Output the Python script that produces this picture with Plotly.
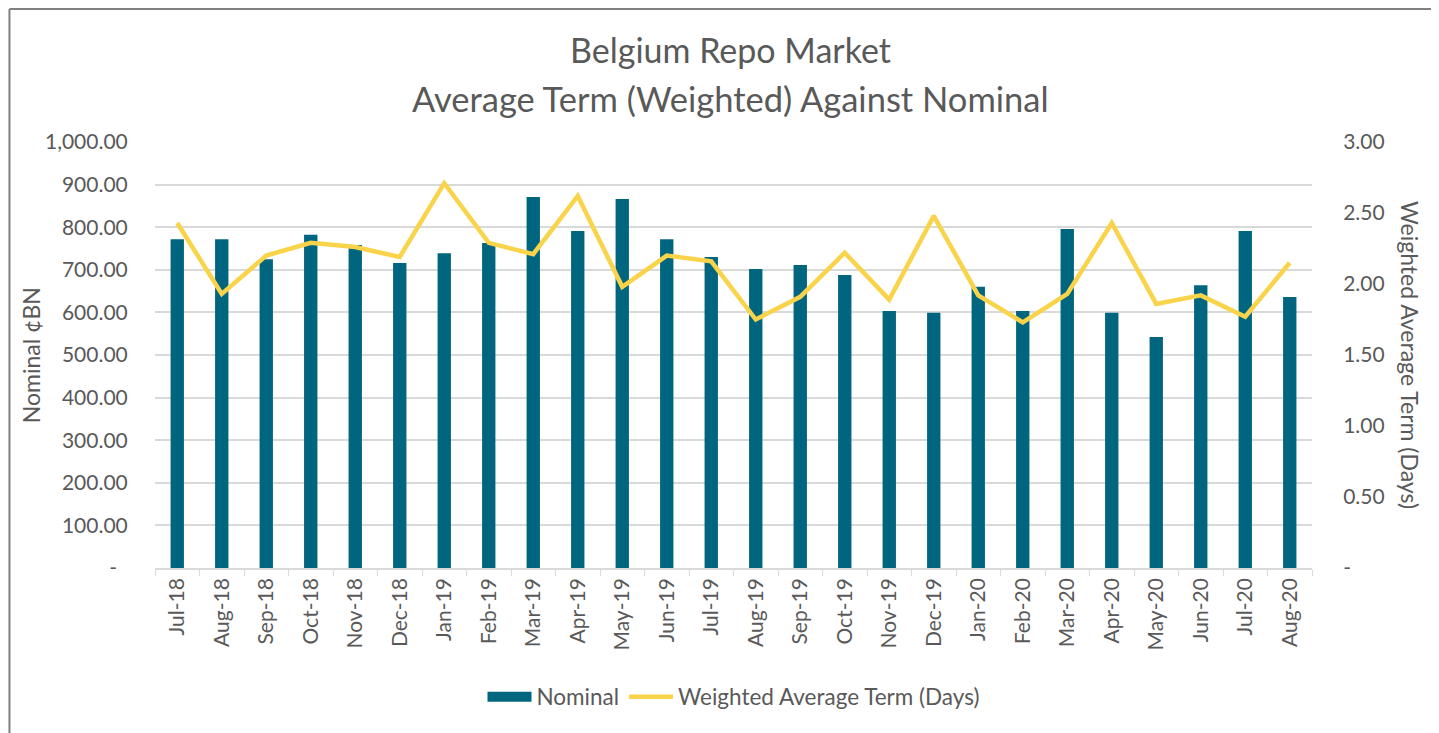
import plotly.graph_objects as go

# data
months = ['Jul-18', 'Aug-18', 'Sep-18', 'Oct-18', 'Nov-18', 'Dec-18',
          'Jan-19', 'Feb-19', 'Mar-19', 'Apr-19', 'May-19', 'Jun-19',
          'Jul-19', 'Aug-19', 'Sep-19', 'Oct-19', 'Nov-19', 'Dec-19',
          'Jan-20', 'Feb-20', 'Mar-20', 'Apr-20', 'May-20', 'Jun-20',
          'Jul-20', 'Aug-20']
nominal = [772, 772, 725, 782, 758, 716, 739, 763, 871, 791, 866, 772,
           730, 702, 711, 688, 603, 599, 660, 603, 796, 599, 542, 664,
           791, 636]
avg_term = [2.43, 1.93, 2.20, 2.29, 2.26, 2.19, 2.71, 2.29, 2.21, 2.62,
            1.98, 2.20, 2.16, 1.75, 1.91, 2.22, 1.89, 2.48, 1.92, 1.73,
            1.93, 2.43, 1.86, 1.92, 1.77, 2.15]

left_tickvals = [0, 100, 200, 300, 400, 500, 600, 700, 800, 900, 1000]
left_ticktext = ['-\u00a0\u00a0', '100.00', '200.00', '300.00', '400.00', '500.00',
                 '600.00', '700.00', '800.00', '900.00', '1,000.00']
right_tickvals = [0, 0.5, 1.0, 1.5, 2.0, 2.5, 3.0]
right_ticktext = ['-', '0.50', '1.00', '1.50', '2.00', '2.50', '3.00']

BAR_COLOR = '#00657F'
LINE_COLOR = '#F9D34A'
TEXT_COLOR = '#595959'
GRID_COLOR = '#D9D9D9'
FONT = 'Lato'

fig = go.Figure()

fig.add_trace(go.Bar(
    x=months,
    y=nominal,
    name='Nominal',
    marker=dict(color=BAR_COLOR, line=dict(width=0)),
    showlegend=False,
))

# legend entry for the bars, drawn as a wide block like the original
fig.add_trace(go.Scatter(
    x=[None], y=[None],
    name='Nominal',
    mode='lines',
    line=dict(color=BAR_COLOR, width=13),
))

fig.add_trace(go.Scatter(
    x=months,
    y=avg_term,
    name='Weighted Average Term (Days)',
    mode='lines',
    line=dict(color=LINE_COLOR, width=4.5),
    yaxis='y2',
))

# page body has an 8px margin, so the figure is shifted back by that much
fig.update_layout(
    width=1431,
    height=725,
    margin=dict(l=147, r=127, t=134, b=165),
    paper_bgcolor='white',
    plot_bgcolor='white',
    font=dict(family=FONT, color=TEXT_COLOR, size=21),
    bargap=0.7,
    showlegend=True,
    legend=dict(
        orientation='h',
        x=0.5, xanchor='center',
        y=-0.303, yanchor='middle',
        font=dict(size=22.5, color=TEXT_COLOR),
        itemwidth=44,
    ),
    xaxis=dict(
        type='category',
        tickangle=-90,
        showgrid=False,
        showline=True,
        linecolor=GRID_COLOR,
        linewidth=1.5,
        ticks='outside',
        tickson='boundaries',
        ticklen=6,
        tickcolor=GRID_COLOR,
        tickfont=dict(size=21, color=TEXT_COLOR),
    ),
    yaxis=dict(
        range=[0, 1000],
        tickvals=left_tickvals,
        ticktext=left_ticktext,
        showgrid=True,
        gridcolor=GRID_COLOR,
        gridwidth=1.5,
        zeroline=False,
        ticks='outside',
        ticklen=22,
        tickcolor='rgba(0,0,0,0)',
        tickfont=dict(size=21, color=TEXT_COLOR),
    ),
    yaxis2=dict(
        range=[0, 3],
        overlaying='y',
        side='right',
        tickvals=right_tickvals,
        ticktext=right_ticktext,
        showgrid=False,
        zeroline=False,
        ticks='outside',
        ticklen=26,
        tickcolor='rgba(0,0,0,0)',
        tickfont=dict(size=21, color=TEXT_COLOR),
    ),
)

# titles
fig.add_annotation(text='Belgium Repo Market', xref='paper', yref='paper',
                   x=0.497, y=1.216, xanchor='center', yanchor='middle', showarrow=False,
                   font=dict(size=34, color=TEXT_COLOR, family=FONT))
fig.add_annotation(text='Average Term (Weighted) Against Nominal', xref='paper', yref='paper',
                   x=0.497, y=1.103, xanchor='center', yanchor='middle', showarrow=False,
                   font=dict(size=34.5, color=TEXT_COLOR, family=FONT))

# axis titles
fig.add_annotation(text='Nominal ¢BN', xref='paper', yref='paper',
                   x=-0.107, y=0.5, xanchor='center', yanchor='middle',
                   showarrow=False, textangle=-90,
                   font=dict(size=23, color=TEXT_COLOR, family=FONT))
fig.add_annotation(text='Weighted Average Term (Days)', xref='paper', yref='paper',
                   x=1.0847, y=0.5, xanchor='center', yanchor='middle',
                   showarrow=False, textangle=90,
                   font=dict(size=23, color=TEXT_COLOR, family=FONT))

# chart frame (left and top edges)
fig.add_shape(type='line', xref='paper', yref='paper',
              x0=-0.1258, x1=-0.1258, y0=1.312, y1=-0.39,
              line=dict(color='#808080', width=2))
fig.add_shape(type='line', xref='paper', yref='paper',
              x0=-0.1258, x1=1.11, y0=1.312, y1=1.312,
              line=dict(color='#808080', width=2))

fig.write_html("out.html")
